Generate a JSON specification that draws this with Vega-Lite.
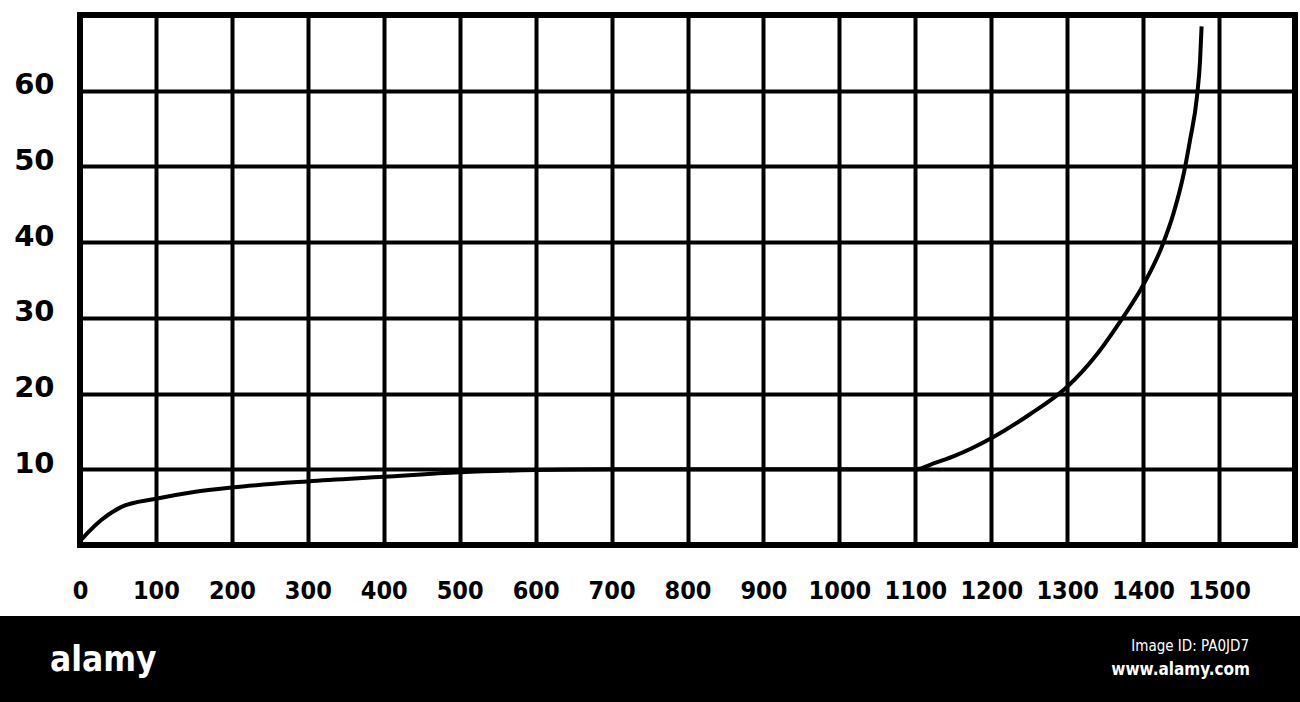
{
  "$schema": "https://vega.github.io/schema/vega-lite/v6.json",
  "background": "white",
  "padding": {"left": 0, "top": 12, "right": 0, "bottom": 0},
  "spacing": 10,
  "center": true,
  "datasets": {
    "curve": [
      {"x": 0, "y": 0.5}, {"x": 10, "y": 1.6}, {"x": 28, "y": 3.3}, {"x": 54, "y": 5.0},
      {"x": 100, "y": 6.1}, {"x": 150, "y": 7.0}, {"x": 200, "y": 7.6}, {"x": 300, "y": 8.4},
      {"x": 400, "y": 9.0}, {"x": 500, "y": 9.6}, {"x": 600, "y": 9.9}, {"x": 700, "y": 10},
      {"x": 800, "y": 10}, {"x": 900, "y": 10}, {"x": 1000, "y": 10}, {"x": 1100, "y": 10},
      {"x": 1125, "y": 10.8}, {"x": 1150, "y": 11.7}, {"x": 1200, "y": 14.1}, {"x": 1250, "y": 17.2},
      {"x": 1300, "y": 20.9}, {"x": 1340, "y": 25.3}, {"x": 1373, "y": 30}, {"x": 1396, "y": 33.6},
      {"x": 1425, "y": 39.5}, {"x": 1440, "y": 43.8}, {"x": 1454, "y": 49.3}, {"x": 1462, "y": 53.6},
      {"x": 1471, "y": 59.3}, {"x": 1475, "y": 64}, {"x": 1477, "y": 68.5}
    ],
    "brand": [{"label": "alamy", "px": 50, "py": 44}],
    "ids": [
      {"label": "Image ID: PA0JD7", "px": 1249, "py": 30}
    ],
    "site": [
      {"label": "www.alamy.com", "px": 1250, "py": 54}
    ]
  },
  "vconcat": [
    {
      "width": 1215,
      "height": 530,
      "view": {"stroke": "black", "strokeWidth": 6, "fill": "white"},
      "data": {"name": "curve"},
      "mark": {"type": "line", "color": "black", "strokeWidth": 4, "interpolate": "monotone"},
      "encoding": {
        "x": {
          "field": "x", "type": "quantitative",
          "scale": {"domain": [0, 1600], "nice": false, "zero": false},
          "axis": {
            "title": null, "format": "d",
            "values": [0, 100, 200, 300, 400, 500, 600, 700, 800, 900, 1000, 1100, 1200, 1300, 1400, 1500],
            "domain": false, "ticks": false,
            "grid": true, "gridColor": "black", "gridWidth": 4, "gridOpacity": 1,
            "labelFont": "DejaVu Sans Condensed", "labelFontWeight": "bold", "labelFontSize": 25,
            "labelColor": "black", "labelPadding": 33, "labelBaseline": "top",
            "labelFlush": false, "labelOverlap": false, "labelBound": false
          }
        },
        "y": {
          "field": "y", "type": "quantitative",
          "scale": {"domain": [0, 70], "nice": false},
          "axis": {
            "title": null,
            "values": [10, 20, 30, 40, 50, 60],
            "domain": false, "ticks": false,
            "grid": true, "gridColor": "black", "gridWidth": 4, "gridOpacity": 1,
            "labelFont": "DejaVu Sans", "labelFontWeight": "bold", "labelFontSize": 29,
            "labelColor": "black", "labelPadding": 26, "labelOffset": -6,
            "minExtent": 77, "maxExtent": 77,
            "labelFlush": false, "labelOverlap": false, "labelBound": false
          }
        }
      }
    },
    {
      "width": 1378,
      "height": 90,
      "view": {"stroke": null, "fill": "black"},
      "encoding": {
        "x": {"field": "px", "type": "quantitative", "scale": {"domain": [0, 1378], "nice": false}, "axis": null},
        "y": {"field": "py", "type": "quantitative", "scale": {"domain": [0, 90], "reverse": true, "nice": false}, "axis": null},
        "text": {"field": "label"}
      },
      "layer": [
        {
          "data": {"name": "brand"},
          "mark": {"type": "text", "color": "white", "font": "DejaVu Sans Condensed", "fontWeight": "bold", "fontSize": 35, "align": "left", "baseline": "middle"}
        },
        {
          "data": {"name": "ids"},
          "mark": {"type": "text", "color": "white", "font": "DejaVu Sans Condensed", "fontSize": 15, "align": "right", "baseline": "middle"}
        },
        {
          "data": {"name": "site"},
          "mark": {"type": "text", "color": "white", "font": "DejaVu Sans Condensed", "fontWeight": "bold", "fontSize": 17, "align": "right", "baseline": "middle"}
        }
      ]
    }
  ]
}
